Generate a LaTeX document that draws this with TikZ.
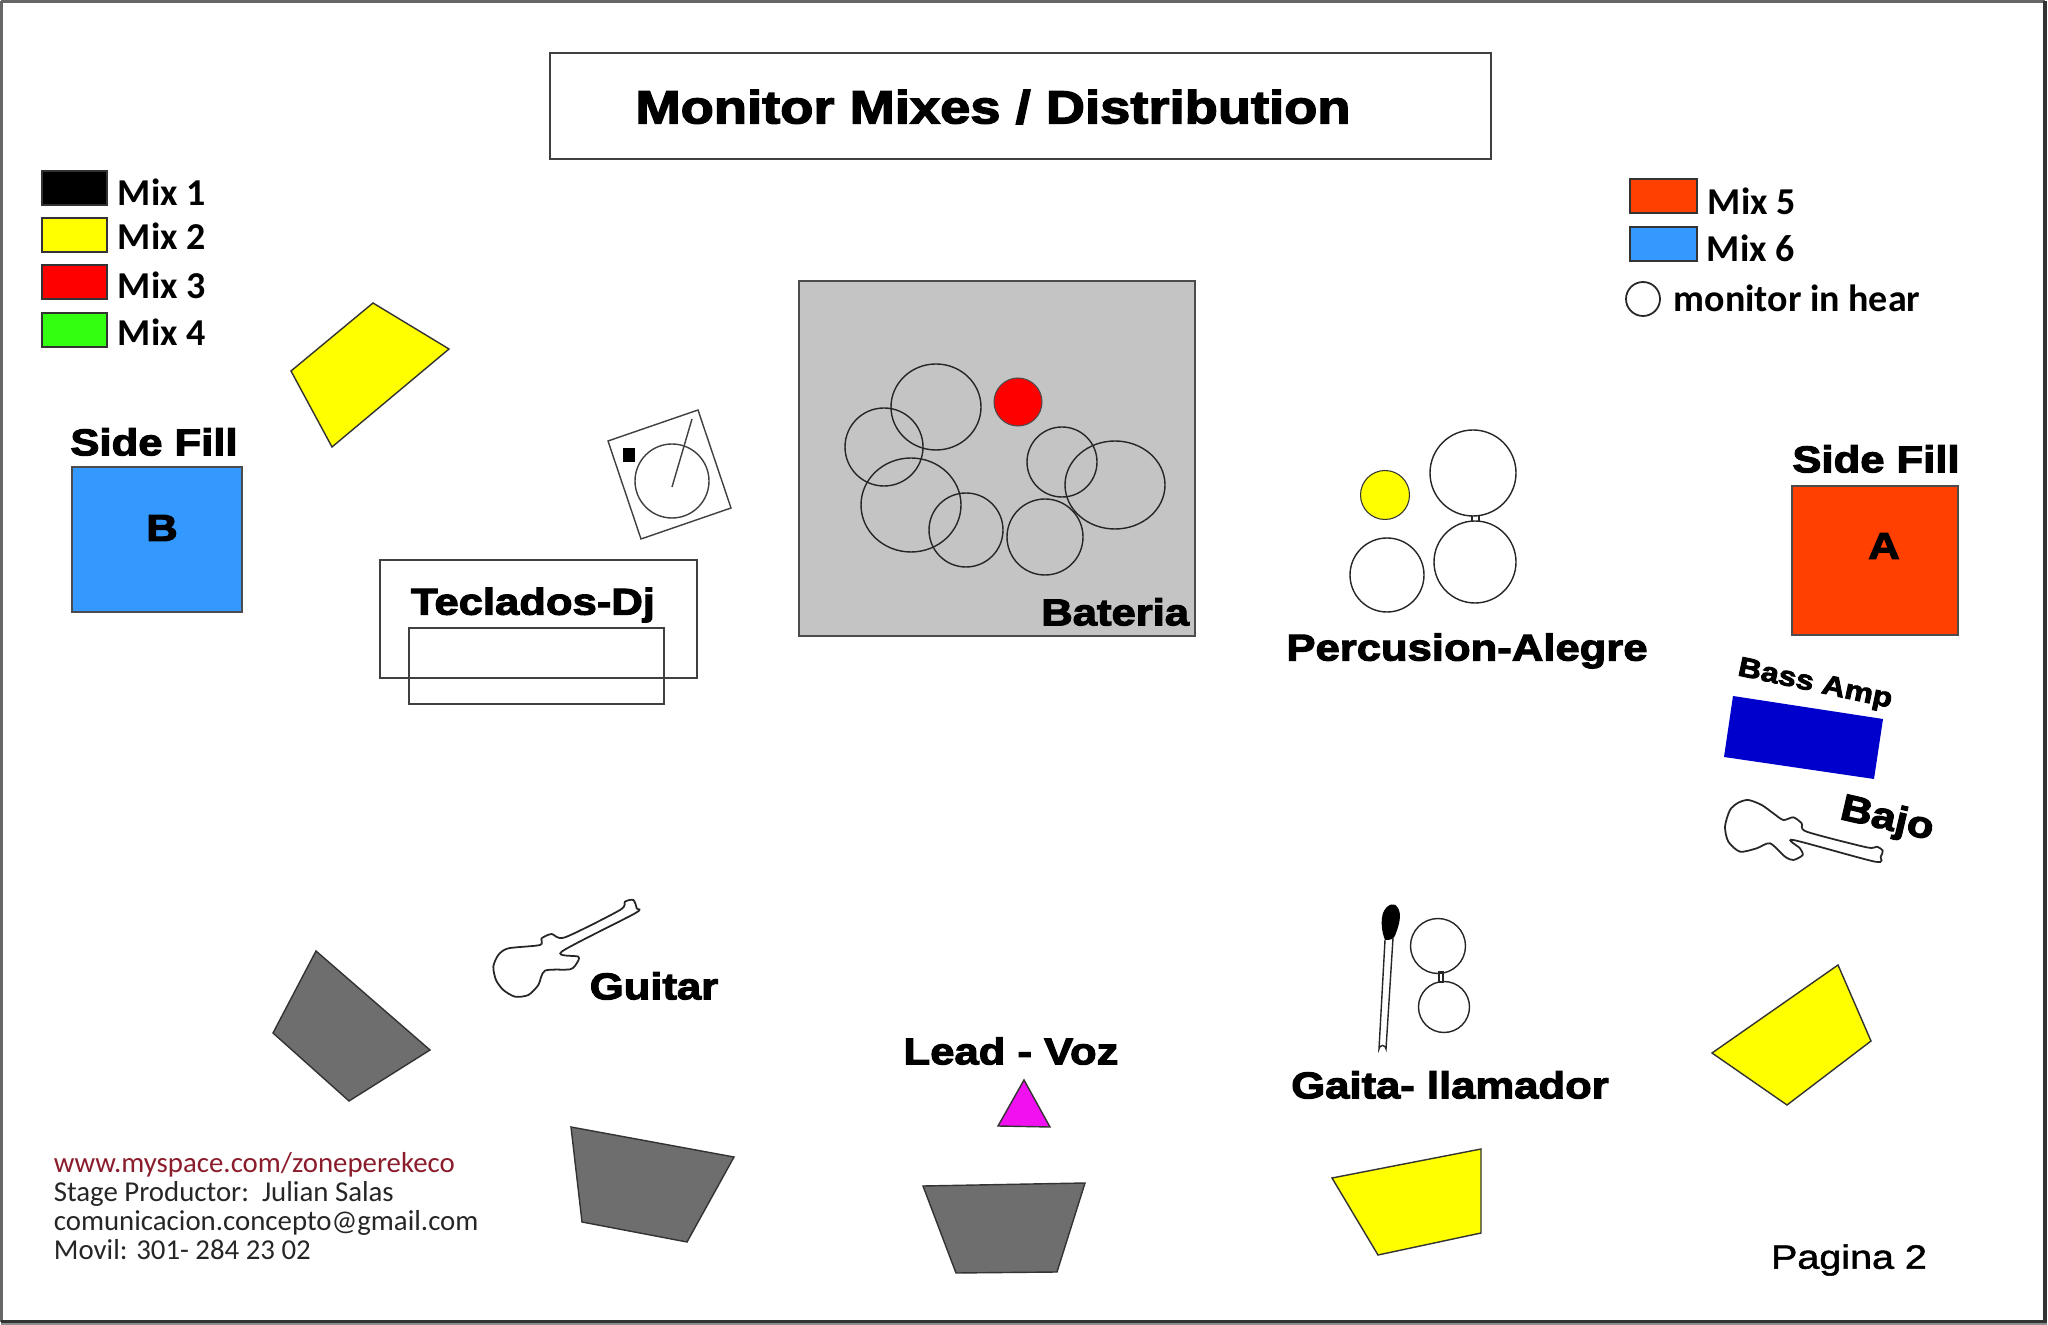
\documentclass[tikz,border=0pt]{standalone}
\usepackage{fontspec}
\setmainfont{Carlito}
\newfontfamily\heavyfont{Liberation Sans}[FakeStretch=1.17,UprightFeatures={FakeBold=1.5},BoldFeatures={FakeBold=3}]
\usetikzlibrary{positioning}
\definecolor{mixyellow}{HTML}{FFFF00}
\definecolor{mixred}{HTML}{FF0000}
\definecolor{mixorange}{HTML}{FF4000}
\definecolor{mixblue}{HTML}{3399FF}
\definecolor{mixgreen}{HTML}{33FF11}
\definecolor{mixgray}{HTML}{6E6E6E}
\definecolor{mixmagenta}{HTML}{F010F0}
\definecolor{drumgray}{HTML}{C4C4C4}
\definecolor{ampblue}{HTML}{0000CC}
\definecolor{webred}{HTML}{8A1C2C}
\tikzset{
  heavylabel/.style={font=\heavyfont\bfseries\fontsize{10.6}{12}\selectfont, inner sep=0pt},
  mixlabel/.style={font=\bfseries\fontsize{10.8}{12}\selectfont, anchor=west, inner sep=0pt},
  footline/.style={font=\fontsize{8.2}{10}\selectfont, anchor=west, inner sep=0pt, text=black!85},
  thinline/.style={draw=black!75, line width=.4pt},
  monitor/.style={draw=black!85, line width=.4pt},
}
\begin{document}
\begin{tikzpicture}[x=.01cm, y=-.01cm, line width=.5pt]
    \useasboundingbox (0,0) rectangle (2048,1325);
    \fill[white] (0,0) rectangle (2048,1325);
    % frame
    \draw[black!60, line width=1pt] (1,1) -- (2045,1) (1,1) -- (1,1322);
    \draw[black!80, line width=1.1pt] (2045,1) -- (2045,1322) -- (1,1322);
    \draw[black!45, line width=.6pt] (1,1324) -- (2047,1324);
    % title
    \draw[thinline] (550,53) rectangle (1491,159);
    \node[heavylabel, font=\heavyfont\bfseries\fontsize{13.2}{15}\selectfont] (title) at (993,107) {Monitor Mixes / Distribution};
    % legends
    \foreach \y/\col/\num/\ly in {171/black/1/192,218/mixyellow/2/236,265/mixred/3/285,313/mixgreen/4/332} {
      \draw[fill=\col, draw=black!80] (42,\y) rectangle ++(65,34);
      \node[mixlabel] (mix\num) at (117,\ly) {Mix \num};
    }
    \foreach \y/\col/\num/\lx/\ly in {179/mixorange/5/1707/201,227/mixblue/6/1706/248} {
      \draw[fill=\col, draw=black!80] (1630,\y) rectangle ++(67,34);
      \node[mixlabel] (mix\num) at (\lx,\ly) {Mix \num};
    }
    \draw[monitor, line width=.5pt] (1643,299) circle (17);
    \node[mixlabel] (hear) at (1673,298) {monitor in hear};
    % side fills
    \draw[fill=mixblue, draw=black!70] (72,467) rectangle (242,612);
    \node[heavylabel] (fillBtitle) at (154,442) {Side Fill};
    \node[heavylabel] (fillB) at (162,528) {B};
    \draw[fill=mixorange, draw=black!70] (1792,486) rectangle (1958,635);
    \node[heavylabel] (fillAtitle) at (1876,459) {Side Fill};
    \node[heavylabel] (fillA) at (1884,546) {A};
    % turntable and keys
    \draw[thinline] (608,441) -- (698,410) -- (731,508) -- (641,539) -- cycle;
    \draw[thinline] (672,481) circle (37);
    \draw[thinline] (692,419) -- (672,487);
    \fill[black] (623,448) rectangle (635,462);
    \draw[thinline] (380,560) rectangle (697,678);
    \draw[thinline] (409,628) rectangle (664,704);
    \node[heavylabel] (keys) at (533,605) {Teclados-Dj};
    % drums
    \draw[fill=drumgray, draw=black!70] (799,281) rectangle (1195,636);
    \foreach \x/\y/\rx/\ry in {936/407/45/43,884/447/39/39,911/505/50/47,966/530/37/37,1045/537/38/38,1062/462/35/35,1115/485/50/44} {
      \draw[monitor] (\x,\y) ellipse ({\rx} and {\ry});
    }
    \draw[fill=mixred, draw=black!70, line width=.3pt] (1018,402) circle (24);
    \node[heavylabel, anchor=east] (drums) at (1190,612) {Bateria};
    % percussion
    \draw[fill=mixyellow, draw=black!80, line width=.3pt] (1385,495) circle (24.5);
    \draw[monitor, fill=white] (1472,515) rectangle (1479,530);
    \foreach \x/\y/\r in {1473/473/43,1475/562/41,1387/575/37} {
      \draw[monitor, fill=white] (\x,\y) circle (\r);
    }
    \node[heavylabel] (percussion) at (1467,651) {Percusion-Alegre};
    % bass
    \fill[ampblue] (1733,696) -- (1883,719) -- (1874,779) -- (1724,757) -- cycle;
    \node[heavylabel, font=\heavyfont\bfseries\fontsize{7.8}{10}\selectfont, rotate=-12] (amp) at (1815,685) {Bass Amp};
    \node[heavylabel, rotate=-13] (bass) at (1887,820) {Bajo};
    \draw[monitor, line width=.5pt, xshift=1690*.01cm, yshift=-640*.01cm, x=.01cm/3, y=-.01cm/3] plot[smooth cycle, tension=.45] coordinates {
      (175,480) (215,495) (250,520) (280,540) (310,532) (335,550) (350,575) (530,622) (560,620) (578,632) (572,650) (555,665) (310,600) (330,625) (338,645) (310,660) (285,650) (240,610) (200,625) (150,635) (115,605) (105,560) (120,510) (145,488)};
    % guitar
    \draw[monitor, line width=.5pt, xshift=470*.01cm, yshift=-880*.01cm, x=.01cm/3, y=-.01cm/3] plot[smooth cycle, tension=.45] coordinates {
      (70,260) (85,225) (115,205) (210,195) (215,175) (245,162) (285,172) (450,90) (465,65) (490,60) (500,85) (495,100) (275,215) (325,230) (320,250) (300,268) (225,272) (205,315) (175,345) (135,350) (100,330) (78,300)};
    \node[heavylabel] (guitar) at (654,986) {Guitar};
    % lead
    \node[heavylabel] (lead) at (1011,1051) {Lead - Voz};
    \draw[fill=mixmagenta, draw=black!80, line width=.4pt] (1024,1080) -- (1050,1127) -- (998,1126) -- cycle;
    % gaita
    \draw[monitor] (1385,940) -- (1379,1049) arc[start angle=180, end angle=360, radius=3.5] -- (1393,938);
    \fill[black] (1383,913) .. controls (1387,903) and (1396,902) .. (1398,908) .. controls (1402,915) and (1399,925) .. (1396,933) .. controls (1394,940) and (1390,940) .. (1385,940) .. controls (1381,930) and (1381,920) .. (1383,913) -- cycle;
    \draw[monitor] (1439,972) rectangle (1443,982);
    \draw[monitor] (1438,946) circle (27.5);
    \draw[monitor] (1444,1007) circle (25.5);
    \node[heavylabel] (gaita) at (1450,1085) {Gaita- llamador};
    % monitors
    \foreach \col/\pts in {
      mixyellow/{(373,303) -- (449,349) -- (332,447) -- (291,371)},
      mixyellow/{(1838,965) -- (1871,1041) -- (1787,1105) -- (1712,1053)},
      mixyellow/{(1332,1178) -- (1481,1149) -- (1481,1233) -- (1378,1255)},
      mixgray/{(316,951) -- (430,1050) -- (349,1101) -- (273,1033)},
      mixgray/{(571,1127) -- (734,1157) -- (687,1242) -- (582,1222)},
      mixgray/{(923,1186) -- (1085,1183) -- (1057,1272) -- (956,1273)}} {
      \draw[fill=\col, draw=black!80, line width=.4pt] \pts -- cycle;
    }
    % footer
    \node[footline, text=webred] (web) at (53,1165) {www.myspace.com/zoneperekeco};
    \node[footline] (producer) at (53,1194) {Stage Productor:\ \ Julian Salas};
    \node[footline] (mail) at (53,1223) {comunicacion.concepto@gmail.com};
    \node[footline] (phone) at (53,1250) {Movil: 301- 284 23 02};
    \node[heavylabel, font=\heavyfont\fontsize{9.6}{12}\selectfont] (page) at (1849,1260) {Pagina 2};
  \end{tikzpicture}
\end{document}
